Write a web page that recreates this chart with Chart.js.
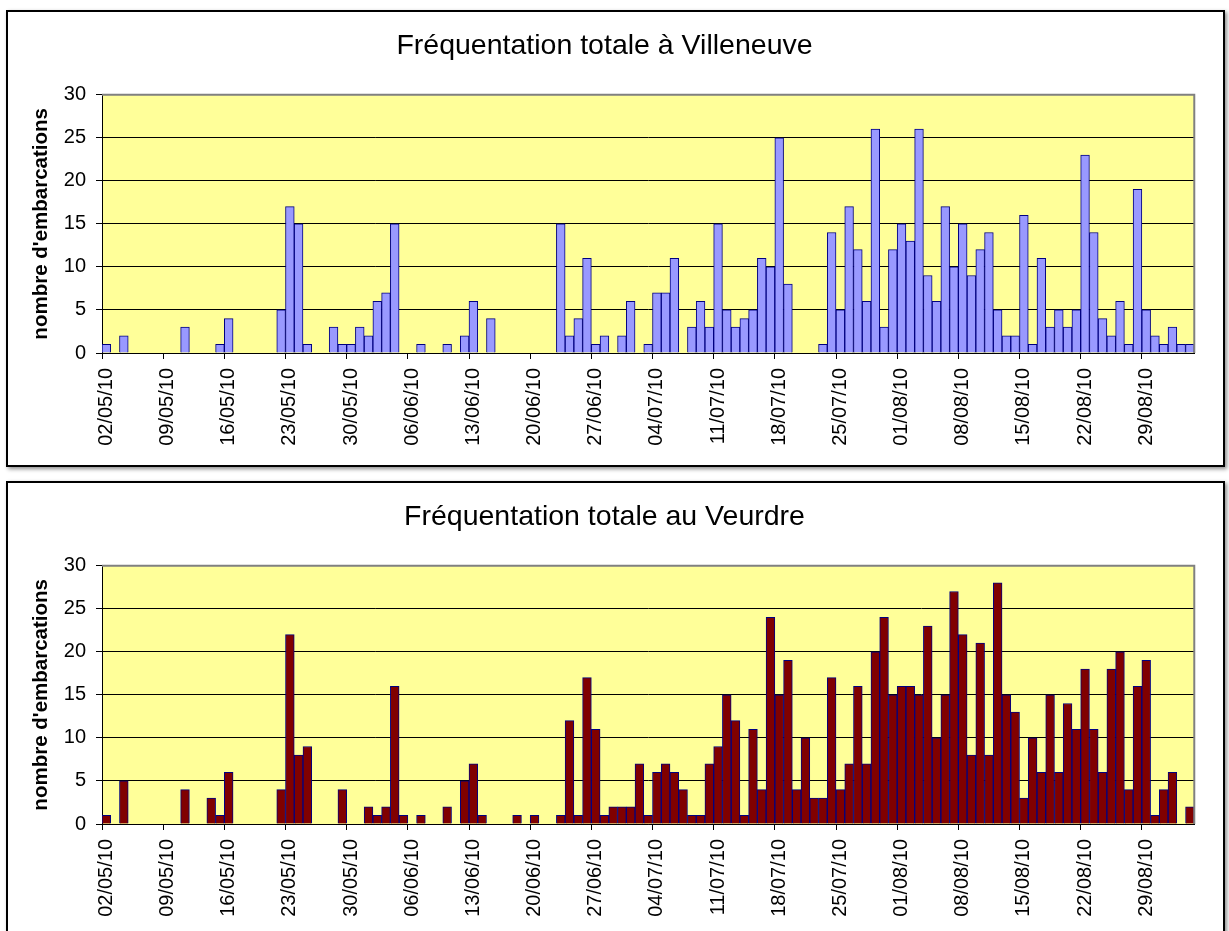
<!DOCTYPE html>
<html>
<head>
<meta charset="utf-8">
<script src="https://cdn.jsdelivr.net/npm/chart.js@4.4.0/dist/chart.umd.min.js"></script>
<style>
  body { margin: 0; background: #fff; width: 1229px; height: 931px; overflow: hidden; position: relative; }
  .box { position: absolute; left: 6px; width: 1219px; box-sizing: border-box; border: 2px solid #000; background: #fff; box-shadow: 2px 2px 4px rgba(0,0,0,0.45); }
  #box1 { top: 10px; height: 457px; }
  #box2 { top: 481px; height: 470px; }
  canvas { display: block; }
</style>
</head>
<body>
<div class="box" id="box1"><canvas id="c1" width="1215" height="453"></canvas></div>
<div class="box" id="box2"><canvas id="c2" width="1215" height="453"></canvas></div>
<script>
// one category per day, 02/05/10 -> 03/09/10
const dates = [
  "02/05/10","03/05/10","04/05/10","05/05/10","06/05/10","07/05/10","08/05/10","09/05/10","10/05/10","11/05/10",
  "12/05/10","13/05/10","14/05/10","15/05/10","16/05/10","17/05/10","18/05/10","19/05/10","20/05/10","21/05/10",
  "22/05/10","23/05/10","24/05/10","25/05/10","26/05/10","27/05/10","28/05/10","29/05/10","30/05/10","31/05/10",
  "01/06/10","02/06/10","03/06/10","04/06/10","05/06/10","06/06/10","07/06/10","08/06/10","09/06/10","10/06/10",
  "11/06/10","12/06/10","13/06/10","14/06/10","15/06/10","16/06/10","17/06/10","18/06/10","19/06/10","20/06/10",
  "21/06/10","22/06/10","23/06/10","24/06/10","25/06/10","26/06/10","27/06/10","28/06/10","29/06/10","30/06/10",
  "01/07/10","02/07/10","03/07/10","04/07/10","05/07/10","06/07/10","07/07/10","08/07/10","09/07/10","10/07/10",
  "11/07/10","12/07/10","13/07/10","14/07/10","15/07/10","16/07/10","17/07/10","18/07/10","19/07/10","20/07/10",
  "21/07/10","22/07/10","23/07/10","24/07/10","25/07/10","26/07/10","27/07/10","28/07/10","29/07/10","30/07/10",
  "31/07/10","01/08/10","02/08/10","03/08/10","04/08/10","05/08/10","06/08/10","07/08/10","08/08/10","09/08/10",
  "10/08/10","11/08/10","12/08/10","13/08/10","14/08/10","15/08/10","16/08/10","17/08/10","18/08/10","19/08/10",
  "20/08/10","21/08/10","22/08/10","23/08/10","24/08/10","25/08/10","26/08/10","27/08/10","28/08/10","29/08/10",
  "30/08/10","31/08/10","01/09/10","02/09/10","03/09/10"
];

// labels actually printed under the axis (one per week)
const shownDates = ["02/05/10","09/05/10","16/05/10","23/05/10","30/05/10","06/06/10","13/06/10","20/06/10",
  "27/06/10","04/07/10","11/07/10","18/07/10","25/07/10","01/08/10","08/08/10","15/08/10","22/08/10","29/08/10"];

const villeneuve = [
  1,0,2,0,0,0,0,0,0,3,
  0,0,0,1,4,0,0,0,0,0,
  5,17,15,1,0,0,3,1,1,3,
  2,6,7,15,0,0,1,0,0,1,
  0,2,6,0,4,0,0,0,0,0,
  0,0,15,2,4,11,1,2,0,2,
  6,0,1,7,7,11,0,3,6,3,
  15,5,3,4,5,11,10,25,8,0,
  0,0,1,14,5,17,12,6,26,3,
  12,15,13,26,9,6,17,10,15,9,
  12,14,5,2,2,16,1,11,3,5,
  3,5,23,14,4,2,6,1,19,5,
  2,1,3,1,1
];

const veurdre = [
  1,0,5,0,0,0,0,0,0,4,
  0,0,3,1,6,0,0,0,0,0,
  4,22,8,9,0,0,0,4,0,0,
  2,1,2,16,1,0,1,0,0,2,
  0,5,7,1,0,0,0,1,0,1,
  0,0,1,12,1,17,11,1,2,2,
  2,7,1,6,7,6,4,1,1,7,
  9,15,12,1,11,4,24,15,19,4,
  10,3,3,17,4,7,16,7,20,24,
  15,16,16,15,23,10,15,27,22,8,
  21,8,28,15,13,3,10,6,15,6,
  14,11,18,11,6,18,20,4,16,19,
  1,4,6,0,2
];

const yTicks = [0, 5, 10, 15, 20, 25, 30];

Chart.defaults.font.family = '"Liberation Sans", Arial, sans-serif';
Chart.defaults.color = '#000';

// yellow plot area + grey frame on top/right
const plotBg = {
  id: 'plotBg',
  beforeDraw(chart) {
    const { ctx, chartArea: a } = chart;
    ctx.save();
    ctx.fillStyle = '#FFFF99';
    ctx.fillRect(a.left, a.top, a.right - a.left, a.bottom - a.top);
    ctx.restore();
  },
  afterDatasetsDraw(chart) {
    const { ctx, chartArea: a } = chart;
    ctx.save();
    ctx.strokeStyle = '#808080';
    ctx.lineWidth = 2;
    ctx.beginPath();
    ctx.moveTo(a.left, a.top);
    ctx.lineTo(a.right, a.top);
    ctx.lineTo(a.right, a.bottom);
    ctx.stroke();
    ctx.restore();
  }
};

function makeChart(id, title, values, fill) {
  new Chart(document.getElementById(id), {
    type: 'bar',
    data: {
      labels: dates,
      datasets: [{
        data: values,
        backgroundColor: fill,
        borderColor: '#000080',
        borderWidth: 1,
        barPercentage: 1,
        categoryPercentage: 1
      }]
    },
    options: {
      responsive: false,
      animation: false,
      layout: { padding: { left: 0, right: 22, top: 0, bottom: 0 } },
      plugins: {
        legend: { display: false },
        tooltip: { enabled: false },
        title: {
          display: true,
          text: title,
          color: '#000',
          font: { size: 28.5, weight: 'normal' },
          padding: { top: 17, bottom: 31.5 }
        }
      },
      scales: {
        x: {
          offset: true,
          grid: {
            offset: true,
            drawOnChartArea: false,
            tickLength: 6,
            color: c => (c.index % 7 === 0 ? '#000' : 'rgba(0,0,0,0)')
          },
          border: { color: '#000', width: 1 },
          ticks: {
            autoSkip: false,
            minRotation: 90,
            maxRotation: 90,
            padding: 9,
            color: '#000',
            font: { size: 20 },
            callback: (v, i) => (shownDates.includes(dates[i]) ? dates[i] : '')
          },
          afterFit: s => { s.height = 112; }
        },
        y: {
          min: yTicks[0],
          max: yTicks[yTicks.length - 1],
          afterBuildTicks: s => { s.ticks = yTicks.map(v => ({ value: v })); },
          ticks: { padding: 10, color: '#000', font: { size: 20 } },
          grid: { color: '#000', tickLength: 6, tickColor: '#000' },
          border: { color: '#000', width: 1 },
          title: {
            display: true,
            text: "nombre d'embarcations",
            color: '#000',
            font: { size: 20.5, weight: 'bold' },
            padding: { top: 21, bottom: 0 }
          },
          afterFit: s => { s.width = 94; }
        }
      }
    },
    plugins: [plotBg]
  });
}

makeChart('c1', 'Fréquentation totale à Villeneuve', villeneuve, '#9999FF');
makeChart('c2', 'Fréquentation totale au Veurdre', veurdre, '#800000');
</script>
</body>
</html>
